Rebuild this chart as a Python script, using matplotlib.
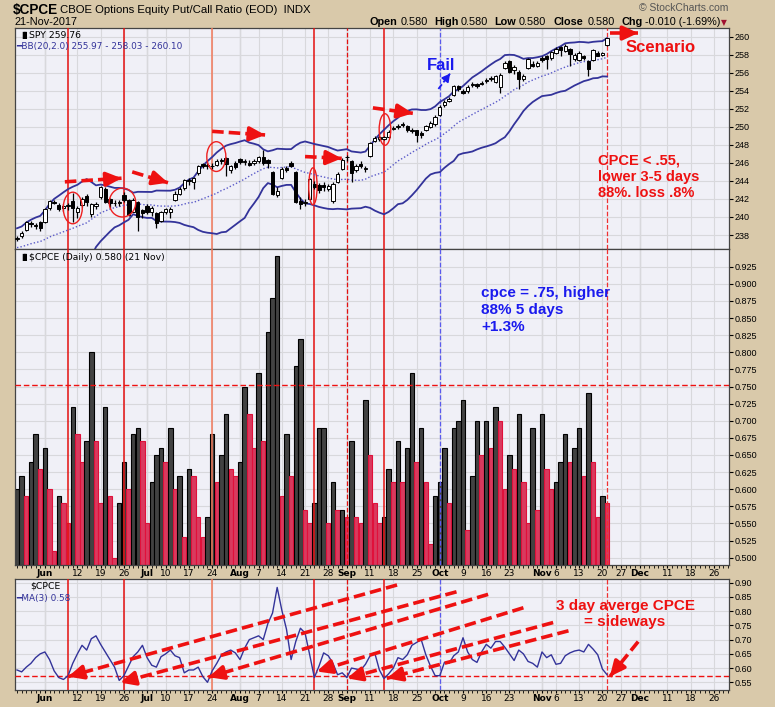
import numpy as np
import pandas as pd
import matplotlib
matplotlib.use("Agg")
import matplotlib.pyplot as plt
from matplotlib.patches import Ellipse

plt.rcParams['font.family'] = ['Liberation Sans', 'DejaVu Sans']

# ---- data ----
holidays = ['2017-05-29', '2017-07-04', '2017-09-04', '2017-11-23', '2017-12-25']
dates = pd.bdate_range('2017-05-23', '2017-12-29')
dates = dates[~dates.isin(pd.to_datetime(holidays))]

cpce = [0.60, 0.62, 0.59, 0.64, 0.68, 0.63, 0.66, 0.60, 0.51, 0.59,
        0.58, 0.55, 0.72, 0.68, 0.64, 0.67, 0.80, 0.67, 0.58, 0.72,
        0.59, 0.50, 0.58, 0.64, 0.60, 0.68, 0.69, 0.67, 0.55, 0.61,
        0.65, 0.66, 0.64, 0.69, 0.60, 0.62, 0.53, 0.63, 0.62, 0.56,
        0.53, 0.56, 0.68, 0.61, 0.65, 0.71, 0.63, 0.62, 0.64, 0.75,
        0.71, 0.66, 0.77, 0.67, 0.83, 0.88, 0.94, 0.59, 0.68, 0.62,
        0.78, 0.82, 0.57, 0.55, 0.58, 0.69, 0.69, 0.55, 0.61, 0.57,
        0.57, 0.56, 0.67, 0.56, 0.55, 0.73, 0.65, 0.58, 0.55, 0.56,
        0.63, 0.61, 0.67, 0.61, 0.66, 0.77, 0.64, 0.69, 0.61, 0.52,
        0.59, 0.61, 0.66, 0.58, 0.69, 0.70, 0.73, 0.54, 0.62, 0.70,
        0.65, 0.70, 0.66, 0.72, 0.70, 0.60, 0.65, 0.63, 0.71, 0.61,
        0.55, 0.69, 0.57, 0.71, 0.63, 0.60, 0.61, 0.64, 0.68, 0.64,
        0.66, 0.69, 0.62, 0.74, 0.64, 0.56, 0.59, 0.58]
cpce_prior = [0.64, 0.54]  # two sessions before the window (for the MA)

spy_open = [237.6, 237.9, 238.6, 239.3, 239.1, 239.4, 239.4, 241.0, 241.7, 241.3,
            241.0, 241.2, 241.8, 240.6, 241.3, 242.3, 240.3, 241.2, 242.2, 243.1,
            242.0, 241.6, 241.5, 242.4, 241.9, 240.6, 241.7, 240.8, 241.2, 240.5,
            240.4, 239.6, 240.6, 240.5, 241.9, 242.6, 243.2, 244.0, 243.9, 244.9,
            245.9, 245.8, 245.7, 245.8, 246.3, 246.5, 245.2, 246.0, 246.4, 246.1,
            246.0, 246.0, 246.2, 246.6, 246.3, 245.0, 242.4, 244.3, 245.4, 246.0,
            245.0, 241.8, 241.5, 242.0, 243.7, 243.6, 243.6, 243.1, 241.8, 243.9,
            245.3, 246.7, 246.2, 245.2, 245.9, 245.3, 246.8, 248.4, 248.6, 248.7,
            248.9, 249.8, 250.0, 250.3, 250.1, 249.5, 249.6, 249.3, 249.7, 250.0,
            250.3, 251.3, 252.4, 252.9, 253.5, 254.5, 254.0, 254.0, 254.6, 254.7,
            254.9, 255.1, 255.3, 255.0, 254.4, 256.5, 257.3, 256.3, 256.1, 255.3,
            256.5, 257.0, 256.7, 257.6, 257.8, 257.6, 258.2, 258.8, 258.4, 258.6,
            257.5, 257.4, 257.9, 257.3, 257.4, 258.2, 258.0, 259.1]
spy_high = [237.9, 238.4, 239.6, 239.5, 239.3, 239.6, 241.0, 241.9, 241.9, 241.5,
            241.4, 241.6, 242.7, 241.2, 242.2, 242.5, 241.5, 241.7, 243.4, 243.3,
            242.1, 241.9, 241.9, 242.8, 242.0, 242.1, 241.8, 240.9, 241.4, 241.2,
            240.5, 240.7, 241.0, 241.1, 242.9, 243.3, 244.2, 244.3, 244.4, 245.8,
            246.0, 246.0, 246.0, 246.4, 246.5, 246.6, 245.8, 246.2, 246.5, 246.4,
            246.3, 246.4, 246.8, 247.4, 246.4, 245.1, 243.3, 245.5, 245.6, 246.2,
            245.1, 242.2, 242.0, 244.3, 244.0, 243.8, 243.9, 243.7, 243.9, 245.0,
            246.5, 246.9, 246.3, 245.9, 246.2, 245.7, 248.3, 249.0, 249.1, 249.0,
            249.6, 250.1, 250.3, 250.5, 250.2, 249.9, 249.7, 249.5, 250.2, 250.6,
            251.3, 252.4, 253.0, 253.3, 254.6, 254.6, 254.2, 254.6, 255.0, 254.9,
            255.1, 255.4, 255.6, 255.8, 256.0, 257.3, 257.4, 256.9, 256.3, 255.9,
            257.6, 257.3, 257.3, 257.9, 258.0, 258.4, 258.8, 259.0, 259.2, 258.7,
            258.2, 258.4, 258.0, 257.4, 258.6, 258.4, 258.3, 259.9]
spy_low = [237.3, 237.7, 238.5, 238.9, 238.7, 238.4, 239.3, 240.8, 241.4, 240.7,
           240.7, 240.8, 239.4, 239.9, 241.1, 241.2, 240.0, 240.9, 242.0, 241.5,
           241.0, 241.2, 241.2, 241.7, 240.1, 240.5, 238.5, 239.9, 240.3, 240.1,
           238.8, 239.4, 240.3, 239.9, 241.8, 242.4, 243.0, 243.6, 243.1, 244.7,
           245.4, 245.3, 245.3, 245.6, 245.9, 244.5, 244.9, 245.3, 245.9, 245.8,
           245.6, 245.8, 246.0, 245.8, 245.4, 242.4, 242.2, 244.2, 245.0, 245.5,
           241.6, 240.9, 241.2, 241.9, 243.1, 242.7, 242.9, 242.9, 241.5, 243.8,
           245.2, 246.2, 243.9, 245.0, 245.4, 245.0, 246.7, 248.3, 248.4, 248.5,
           248.8, 249.7, 249.8, 250.0, 249.4, 249.3, 248.3, 248.8, 249.5, 249.9,
           250.1, 251.2, 252.2, 252.8, 253.4, 254.0, 253.6, 253.8, 254.4, 254.3,
           254.6, 254.9, 255.1, 254.9, 253.8, 256.4, 256.0, 255.9, 254.2, 255.1,
           256.4, 256.6, 256.6, 257.2, 256.4, 257.4, 258.1, 257.8, 258.3, 256.8,
           257.3, 257.3, 257.4, 255.6, 257.3, 257.8, 257.9, 259.0]
spy_close = [237.7, 238.2, 239.4, 239.2, 239.0, 238.8, 240.9, 241.8, 241.6, 240.9,
             241.2, 241.3, 241.0, 241.0, 242.0, 241.7, 241.4, 241.4, 243.3, 241.7,
             241.6, 241.5, 241.7, 241.9, 240.2, 241.9, 240.0, 240.4, 240.6, 241.0,
             239.3, 240.6, 240.9, 240.9, 242.6, 243.1, 244.1, 244.1, 244.3, 245.6,
             245.7, 245.6, 245.6, 246.2, 246.2, 245.9, 245.6, 245.5, 246.1, 246.2,
             245.8, 246.2, 246.6, 246.0, 246.0, 242.6, 242.9, 245.3, 245.2, 245.7,
             241.7, 241.4, 241.7, 244.2, 243.3, 243.0, 243.3, 243.4, 243.7, 244.8,
             246.3, 246.6, 244.9, 245.6, 245.6, 245.4, 248.2, 248.8, 248.9, 248.9,
             249.4, 249.9, 250.1, 250.2, 249.6, 249.7, 249.1, 249.1, 250.1, 250.4,
             251.1, 252.2, 252.8, 253.1, 254.5, 254.2, 253.8, 254.4, 254.8, 254.5,
             254.8, 255.2, 255.4, 255.6, 255.8, 257.1, 256.1, 256.6, 255.3, 255.6,
             257.5, 256.7, 257.1, 257.4, 257.5, 258.3, 258.6, 258.5, 259.0, 258.1,
             258.0, 258.2, 257.6, 256.4, 258.5, 257.9, 258.2, 259.8]
# 19 sessions before the window (needed for the 20-day bands)
spy_prior = [236.1, 236.3, 235.8, 236.4, 236.5, 236.2, 236.5, 237.4, 237.4, 237.2,
             237.6, 237.1, 236.7, 238.0, 237.8, 233.6, 234.5, 236.0, 237.3]

tick_dates = ['2017-06-01', '2017-06-12', '2017-06-19', '2017-06-26', '2017-07-03',
              '2017-07-10', '2017-07-17', '2017-07-24', '2017-08-01', '2017-08-07',
              '2017-08-14', '2017-08-21', '2017-08-28', '2017-09-01', '2017-09-11',
              '2017-09-18', '2017-09-25', '2017-10-02', '2017-10-09', '2017-10-16',
              '2017-10-23', '2017-11-01', '2017-11-06', '2017-11-13', '2017-11-20',
              '2017-11-27', '2017-12-01', '2017-12-11', '2017-12-18', '2017-12-26']
tick_labels = ['Jun', '12', '19', '26', 'Jul', '10', '17', '24', 'Aug', '7', '14', '21',
               '28', 'Sep', '11', '18', '25', 'Oct', '9', '16', '23', 'Nov', '6', '13',
               '20', '27', 'Dec', '11', '18', '26']
month_labels = ['Jun', 'Jul', 'Aug', 'Sep', 'Oct', 'Nov', 'Dec']

marker_lines = [('2017-06-08', '#e41010', '-'), ('2017-06-26', '#e41010', '-'),
                ('2017-07-24', '#f2785a', '-'), ('2017-08-23', '#e41010', '-'),
                ('2017-09-01', '#e41010', '--'), ('2017-09-14', '#e41010', '-'),
                ('2017-10-02', '#5a5aee', '--'), ('2017-11-21', '#f03030', '--')]

# ---- derived series ----
n = len(cpce)
x = np.arange(n)
pos = {d: i for i, d in enumerate(dates)}
tick_pos = [pos[pd.Timestamp(d)] for d in tick_dates]

closes = pd.Series(spy_prior + spy_close)
bb_mid = closes.rolling(20).mean().values[-n:]
bb_sd = closes.rolling(20).std(ddof=0).values[-n:]
bb_up, bb_lo = bb_mid + 2 * bb_sd, bb_mid - 2 * bb_sd
ma3 = pd.Series(cpce_prior + cpce).rolling(3).mean().values[-n:]

W, H = 775, 707
RED = '#ee1111'
BLUE = '#1a1aee'
NAVY = '#33339a'
fig = plt.figure(figsize=(W / 100, H / 100), dpi=100, facecolor='#d9c9aa')


def panel(top, bottom):
    ax = fig.add_axes([15 / W, 1 - bottom / H, 714 / W, (bottom - top) / H], facecolor='#f0f0f7')
    ax.set_xlim(-0.43, 153.25)
    ax.set_xticks(tick_pos)
    ax.set_xticks(np.arange(len(dates)), minor=True)
    ax.grid(True, which='major', color='#d8d8dc', lw=0.8)
    for lab, p in zip(tick_labels, tick_pos):
        if lab in month_labels:
            ax.axvline(p, color='#bdbdc2', lw=0.9, zorder=0.5)
    ax.yaxis.tick_right()
    ax.tick_params(axis='y', direction='out', length=3, pad=1, labelsize=6.5)
    ax.tick_params(axis='x', which='both', direction='out', length=2, pad=1, labelsize=6.5)
    for s in ax.spines.values():
        s.set_color('#444444')
        s.set_linewidth(0.9)
    for d, c, ls in marker_lines:
        ax.axvline(pos[pd.Timestamp(d)], color=c, lw=1.1 if ls == '-' else 0.9, ls=ls, zorder=3)
    return ax


def set_xlabels(ax):
    ax.set_xticklabels(tick_labels)
    for t in ax.get_xticklabels():
        t.set_family('DejaVu Sans')
        if t.get_text() in month_labels:
            t.set_weight('bold')


def dash_arrow(ax, tail, tip, color, lw=2.6, head=(0.9, 0.42), back=14):
    ax.plot([tail[0], tip[0]], [tail[1], tip[1]], color=color, lw=lw,
            ls=(0, (3.2, 1.4)), solid_capstyle='butt', zorder=6)
    p0 = ax.transData.transform(tail)
    p1 = ax.transData.transform(tip)
    d = (p0 - p1) / np.hypot(*(p0 - p1)) * back * 0.72
    ax.annotate('', xy=tip, xytext=(d[0], d[1]), textcoords='offset points',
                arrowprops=dict(arrowstyle=f'-|>,head_length={head[0]},head_width={head[1]}',
                                color=color, lw=lw, shrinkA=0, shrinkB=0), zorder=7)


# ---- top panel: SPY candles + Bollinger bands ----
ax1 = panel(28, 249)
ax1.set_ylim(236.45, 260.96)
ax1.set_yticks(np.arange(238, 261, 2))
ax1.tick_params(axis='x', which='both', labelbottom=False, length=0)
ax1.plot(x, bb_up, color=NAVY, lw=1.3, zorder=4)
ax1.plot(x, bb_lo, color=NAVY, lw=1.3, zorder=4)
ax1.plot(x, bb_mid, color='#5a5ac8', lw=1.0, ls=(0, (1, 1.5)), zorder=4)
o = np.array(spy_open)
c = np.array(spy_close)
ax1.vlines(x, spy_low, spy_high, color='black', lw=0.9, zorder=5)
body_lo = np.minimum(o, c)
body_h = np.maximum(np.abs(c - o), 0.07)
fills = ['white' if cc >= oo else 'black' for oo, cc in zip(o, c)]
ax1.bar(x, body_h, bottom=body_lo, width=0.72, color=fills, edgecolor='black', lw=0.7, zorder=5)

for cx, cy, w, h in [(12.0, 241.0, 4.1, 3.5), (22.7, 241.6, 5.7, 3.2), (42.9, 246.7, 4.1, 3.3),
                     (63.7, 243.4, 1.8, 4.1), (79.2, 249.7, 2.5, 3.5)]:
    ax1.add_patch(Ellipse((cx, cy), w, h, fill=False, ec='#ee2020', lw=1.0, zorder=6))

for tail, tip in [((10.3, 243.9), (22.5, 244.3)), ((24.8, 245.0), (32.5, 243.8)),
                  ((42.0, 249.5), (53.4, 249.1)), ((62.0, 246.7), (69.9, 246.5)),
                  ((76.6, 252.1), (85.2, 251.5)), ((127.6, 260.4), (133.7, 260.4))]:
    dash_arrow(ax1, tail, tip, RED)
dash_arrow(ax1, (90.7, 254.2), (93.2, 255.9), BLUE, lw=1.3, head=(0.45, 0.25), back=7)

# ---- middle panel: CPCE daily bars ----
ax2 = panel(249, 565)
base = 0.4893
ax2.set_ylim(base, 0.9509)
ax2.set_yticks(np.arange(0.5, 0.926, 0.025))
ax2.yaxis.set_major_formatter(matplotlib.ticker.FormatStrFormatter('%.3f'))
prev = [cpce_prior[-1]] + cpce[:-1]
up = [v >= p for v, p in zip(cpce, prev)]
vals = np.array(cpce)
ax2.bar(x, vals - base, bottom=base, width=0.95,
        color=['#424242' if u else '#d93a5e' for u in up],
        edgecolor=['#000000' if u else '#e0103a' for u in up], lw=0.8, zorder=2)
ax2.axhline(0.752, color=RED, lw=1.0, ls=(0, (4, 2)), zorder=3)
set_xlabels(ax2)

# ---- bottom panel: 3-day MA of CPCE ----
ax3 = panel(579, 690)
ax3.set_ylim(0.523, 0.913)
ax3.set_yticks(np.arange(0.55, 0.91, 0.05))
ax3.yaxis.set_major_formatter(matplotlib.ticker.FormatStrFormatter('%.2f'))
ax3.plot(x, ma3, color=NAVY, lw=1.0, zorder=4)
ax3.axhline(0.573, color=RED, lw=1.0, ls=(0, (4, 2)), zorder=3)
for tail, tip in [((81.8, 0.892), (11.0, 0.570)), ((94.6, 0.868), (22.2, 0.549)),
                  ((101.4, 0.859), (41.2, 0.568)), ((109.0, 0.812), (64.5, 0.588)),
                  ((115.4, 0.760), (71.0, 0.564)), ((118.7, 0.731), (79.6, 0.564)),
                  ((133.7, 0.693), (127.6, 0.570))]:
    dash_arrow(ax3, tail, tip, RED)
set_xlabels(ax3)


# ---- texts ----
def ftext(px, py, s, **kw):
    kw.setdefault('va', 'center')
    fig.text(px / W, 1 - py / H, s, **kw)


ftext(13, 10, '$CPCE', fontsize=9.8, weight='bold')
ftext(60, 10, 'CBOE Options Equity Put/Call Ratio (EOD)  INDX', fontsize=8.2)
ftext(14, 22, '21-Nov-2017', fontsize=7.8)
ftext(728, 8, '\u00a9 StockCharts.com', fontsize=7.5, color='#555555', ha='right')
for xp, s, b in [(370, 'Open', True), (401, '0.580', False), (434, 'High', True),
                 (461, '0.580', False), (494, 'Low', True), (519, '0.580', False),
                 (553, 'Close', True), (588, '0.580', False), (622, 'Chg', True),
                 (645, '-0.010 (-1.69%)', False)]:
    ftext(xp, 22, s, fontsize=7.8, weight='bold' if b else 'normal')
ftext(721, 23, '\u25bc', fontsize=5.5, color='#a01030', family='DejaVu Sans')

ftext(19, 35, '\u2590\u258c', fontsize=5, family='DejaVu Sans')
ftext(29, 35, 'SPY 259.76', fontsize=6.7, family='DejaVu Sans')
ftext(16, 46, '\u2501BB(20,2.0) 255.97 - 258.03 - 260.10', fontsize=6.4, color=NAVY, family='DejaVu Sans')
ftext(19, 257, '\u2590\u258c', fontsize=5, family='DejaVu Sans')
ftext(29, 257, '$CPCE (Daily) 0.580 (21 Nov)', fontsize=6.7, family='DejaVu Sans')
ftext(30, 586, '$CPCE', fontsize=6.7, family='DejaVu Sans')
ftext(16, 598, '\u2501MA(3) 0.58', fontsize=6.4, color=NAVY, family='DejaVu Sans')

ftext(427, 66, 'Fail', fontsize=12, weight='bold', color=BLUE)
ftext(626, 48, 'Scenario', fontsize=12, weight='bold', color=RED)
ftext(598, 177, 'CPCE < .55,\nlower 3-5 days\n88%. loss .8%', fontsize=10.5,
      weight='bold', color=RED, linespacing=1.2)
ftext(481, 310, 'cpce = .75, higher\n88% 5 days\n+1.3%', fontsize=11,
      weight='bold', color=BLUE, linespacing=1.3)
ftext(625, 614, '3 day averge CPCE\n= sideways', fontsize=11, weight='bold',
      color=RED, ha='center', linespacing=1.25)

fig.savefig('out.png', dpi=100, facecolor=fig.get_facecolor())
